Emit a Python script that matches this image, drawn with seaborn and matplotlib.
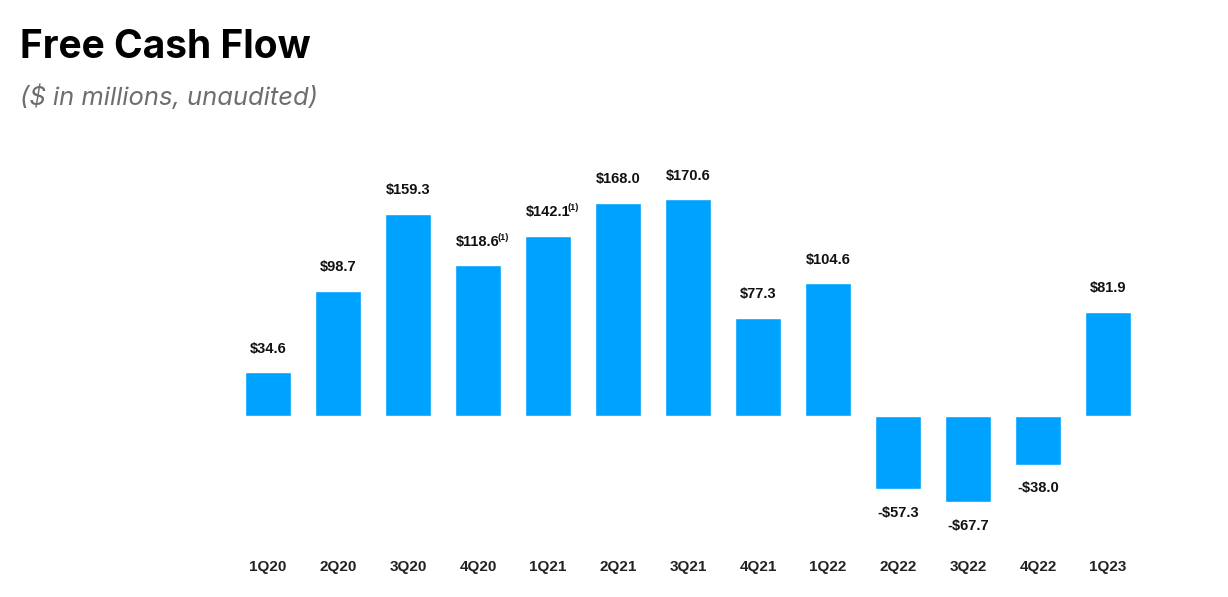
import matplotlib
matplotlib.use("Agg")
import matplotlib.pyplot as plt
import seaborn as sns
import pandas as pd

quarters = ["1Q20", "2Q20", "3Q20", "4Q20", "1Q21", "2Q21", "3Q21",
            "4Q21", "1Q22", "2Q22", "3Q22", "4Q22", "1Q23"]
fcf = [34.6, 98.7, 159.3, 118.6, 142.1, 168.0, 170.6,
       77.3, 104.6, -57.3, -67.7, -38.0, 81.9]
footnoted = ["4Q20", "1Q21"]

sns.set_theme(style="white")
plt.rcParams['font.family'] = ['Liberation Sans', 'DejaVu Sans']

df = pd.DataFrame({"quarter": quarters, "fcf": fcf})

W, H = 1228, 597
fig = plt.figure(figsize=(W / 100, H / 100), dpi=100)
ax = fig.add_axes([233 / W, 1 - 518 / H, 910 / W, (518 - 162) / H])

bar_color = "#00A2FF"
sns.barplot(data=df, x="quarter", y="fcf", color=bar_color, saturation=1,
            width=0.655, ax=ax)
ax.set_xlim(-0.5, len(quarters) - 0.5)
ax.set_ylim(-80, 200)

labels = [f"${v:.1f}" if v >= 0 else f"-${abs(v):.1f}" for v in fcf]
ax.bar_label(ax.containers[0], labels=labels, padding=12,
             fontsize=10.5, fontweight="bold", color="#111111")

for i, q in enumerate(quarters):
    if q in footnoted:
        ax.annotate("(1)", xy=(i, fcf[i]), xytext=(14.3, 17),
                    textcoords="offset points", ha="left", va="bottom",
                    fontsize=6.5, fontweight="bold", color="#111111")

ax.set_xlabel("")
ax.set_ylabel("")
ax.set_yticks([])
ax.tick_params(axis="x", length=0, pad=30)
for lbl in ax.get_xticklabels():
    lbl.set_fontweight("bold")
    lbl.set_fontsize(11)
    lbl.set_color("#222222")
for s in ax.spines.values():
    s.set_visible(False)

fig.text(20 / W, 1 - 48 / H, "Free Cash Flow", fontsize=28, fontweight="bold",
         family=["Inter", "DejaVu Sans"], va="center", ha="left", color="black")
fig.text(20 / W, 1 - 97 / H, "($ in millions, unaudited)", fontsize=18.4,
         style="italic", family=["Inter", "DejaVu Sans"], va="center",
         ha="left", color="#6e6e6e")

fig.savefig("out.png", dpi=100, facecolor="white")
